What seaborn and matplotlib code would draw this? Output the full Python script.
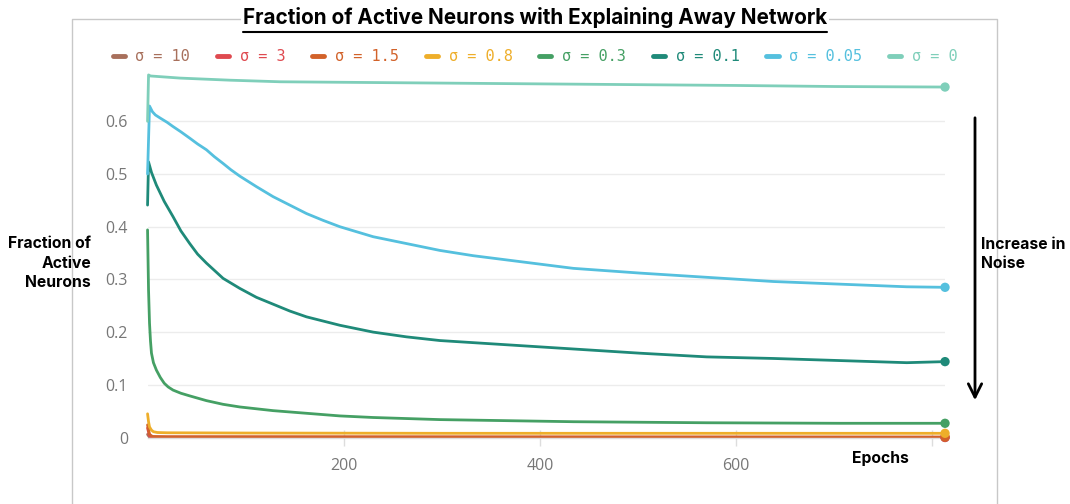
import numpy as np
import pandas as pd
import matplotlib
matplotlib.use("Agg")
import matplotlib.pyplot as plt
import seaborn as sns
from matplotlib.lines import Line2D
from matplotlib.font_manager import FontProperties

# ---------------- data ----------------
labels = ["σ = 10", "σ = 3", "σ = 1.5", "σ = 0.8", "σ = 0.3", "σ = 0.1", "σ = 0.05", "σ = 0"]
colors = ["#a8705c", "#df4a50", "#d2622a", "#eeae2a", "#45a064", "#1f8a79", "#55c0de", "#7fcfba"]

ep_s10 = [0, 2, 813]
val_s10 = [0.006, 0.0005, 0.0]

ep_s3 = [0, 2, 5, 813]
val_s3 = [0.018, 0.003, 0.0008, 0.0003]

ep_s15 = [0, 2, 5, 20, 813]
val_s15 = [0.024, 0.006, 0.002, 0.0015, 0.001]

ep_s08 = [0, 1, 2, 4, 6, 10, 20, 100, 300, 500, 813]
val_s08 = [0.045, 0.030, 0.020, 0.014, 0.011, 0.0095, 0.009, 0.0085, 0.008, 0.008, 0.008]

ep_s03 = [0, 1, 2, 3, 4, 6, 9, 13, 17, 21, 26, 34, 43, 60, 77, 94, 128, 162, 196, 230,
          264, 298, 434, 570, 706, 813]
val_s03 = [0.394, 0.28, 0.217, 0.183, 0.160, 0.142, 0.128, 0.114, 0.103, 0.096, 0.090,
           0.084, 0.079, 0.070, 0.063, 0.058, 0.051, 0.046, 0.041, 0.038, 0.036, 0.034,
           0.030, 0.028, 0.027, 0.027]

ep_s01 = [0, 1, 4, 9, 17, 26, 34, 43, 51, 60, 77, 94, 111, 128, 145, 162, 196, 230, 264,
          298, 366, 434, 502, 570, 638, 706, 774, 813]
val_s01 = [0.441, 0.523, 0.503, 0.479, 0.448, 0.419, 0.392, 0.368, 0.348, 0.331, 0.302,
           0.283, 0.266, 0.253, 0.240, 0.229, 0.213, 0.200, 0.191, 0.184, 0.176, 0.168,
           0.160, 0.153, 0.150, 0.146, 0.142, 0.144]

ep_s005 = [0, 2, 5, 8, 13, 20, 26, 34, 43, 51, 60, 68, 77, 85, 94, 111, 128, 145, 162,
           179, 196, 230, 264, 298, 332, 366, 434, 502, 570, 638, 706, 774, 813]
val_s005 = [0.50, 0.629, 0.618, 0.612, 0.606, 0.598, 0.590, 0.580, 0.568, 0.557, 0.546,
            0.533, 0.520, 0.508, 0.496, 0.476, 0.457, 0.441, 0.425, 0.412, 0.400, 0.381,
            0.368, 0.355, 0.345, 0.337, 0.321, 0.312, 0.304, 0.296, 0.291, 0.286, 0.285]

ep_s0 = [0, 1, 3, 33, 84, 135, 200, 400, 600, 700, 813]
val_s0 = [0.60, 0.688, 0.686, 0.682, 0.678, 0.675, 0.674, 0.671, 0.668, 0.666, 0.665]

y_ticks = [0, 0.1, 0.2, 0.3, 0.4, 0.5, 0.6]
y_tick_labels = ["0", "0.1", "0.2", "0.3", "0.4", "0.5", "0.6"]
x_ticks = [200, 400, 600, 800]
x_tick_labels = ["200", "400", "600", ""]

title = "Fraction of Active Neurons with Explaining Away Network"
ylabel = "Fraction of\nActive\nNeurons"
xlabel = "Epochs"
note = "Increase in\nNoise"

# ---------------- build long-form table ----------------
series = [(ep_s10, val_s10), (ep_s3, val_s3), (ep_s15, val_s15), (ep_s08, val_s08),
          (ep_s03, val_s03), (ep_s01, val_s01), (ep_s005, val_s005), (ep_s0, val_s0)]
rows = []
for lab, (ep, val) in zip(labels, series):
    for e, v in zip(ep, val):
        rows.append({"epoch": e, "value": v, "sigma": lab})
df = pd.DataFrame(rows)
last = df.groupby("sigma", sort=False).tail(1)

# ---------------- figure ----------------
sns.set_theme(style="white")
plt.rcParams["font.family"] = ["Inter", "DejaVu Sans"]

fig = plt.figure(figsize=(10.7, 5.04), dpi=100)
ax = fig.add_axes([0.1379, 0.1319, 0.7453, 0.7320])

palette = dict(zip(labels, colors))
sns.lineplot(data=df, x="epoch", y="value", hue="sigma", hue_order=labels,
             palette=palette, lw=2, legend=False, ax=ax, estimator=None)
for ln in ax.lines:
    ln.set_clip_on(False)
    ln.set_solid_joinstyle("round")
sns.scatterplot(data=last, x="epoch", y="value", hue="sigma", hue_order=labels,
                palette=palette, s=45, legend=False, ax=ax, edgecolor="none",
                clip_on=False, zorder=5)

ax.set_xlim(0, 813)
ax.set_ylim(0, 0.70)
ax.set_yticks(y_ticks)
ax.set_yticklabels(y_tick_labels)
ax.set_xticks(x_ticks)
ax.set_xticklabels(x_tick_labels)
ax.set_xlabel("")
ax.set_ylabel("")
for sp in ["top", "right", "left"]:
    ax.spines[sp].set_visible(False)
ax.spines["bottom"].set_color("#dddddd")
ax.spines["bottom"].set_linewidth(1)
ax.grid(axis="y", color="#ececec", lw=1)
ax.grid(axis="x", visible=False)
ax.set_axisbelow(True)
ax.tick_params(axis="y", length=0, pad=14, labelsize=11.5, labelcolor="#777777")
ax.tick_params(axis="x", direction="inout", length=12, width=1, color="#dddddd",
               pad=9, labelsize=11.5, labelcolor="#777777", bottom=True)
for t in ax.get_xticklabels() + ax.get_yticklabels():
    t.set_fontfamily(["Open Sans", "DejaVu Sans"])

# legend
handles = [Line2D([0], [0], color=c, lw=3.5, solid_capstyle="round") for c in colors]
fig.legend(handles, labels, loc="center", bbox_to_anchor=(0.5, 0.887), ncol=8,
           frameon=False, handlelength=0.8, handletextpad=0.7, columnspacing=1.75,
           prop=FontProperties(family="DejaVu Sans Mono", size=11), labelcolor=colors)

# panel border (open at bottom)
x0, x1, ytop = 72 / 1070, 997 / 1070, 1 - 19 / 504
fig.add_artist(Line2D([x0, x0, x1, x1], [0, ytop, ytop, 0], transform=fig.transFigure,
                      color="#c8c8c8", lw=1, zorder=0))

# title with underline
tt = fig.text(0.5, 1 - 18 / 504, title, ha="center", va="center", fontsize=14.9,
              fontweight="bold", color="black", zorder=10,
              bbox=dict(facecolor="white", edgecolor="none", pad=1))
fig.canvas.draw()
bb = tt.get_window_extent(renderer=fig.canvas.get_renderer())
uy = 1 - 32 / 504
fig.add_artist(Line2D([bb.x0 / 1070, bb.x1 / 1070], [uy, uy], transform=fig.transFigure,
                      color="black", lw=1.5, zorder=11))

# axis labels
fig.text(91 / 1070, 1 - 263 / 504, ylabel, ha="right", va="center", fontsize=11.3,
         fontweight="bold", color="black", linespacing=1.4)
fig.text(880 / 1070, 1 - 458 / 504, xlabel, ha="center", va="center", fontsize=11.3,
         fontweight="bold", color="black")
fig.text(981 / 1070, 1 - 254 / 504, note, ha="left", va="center", fontsize=11.3,
         fontweight="bold", color="black", linespacing=1.4)

# noise arrow
fig.add_artist(matplotlib.patches.FancyArrowPatch(
    (975 / 1070, 1 - 115 / 504), (975 / 1070, 1 - 403 / 504), transform=fig.transFigure,
    arrowstyle="->", mutation_scale=24, lw=2, color="black"))

fig.savefig("out.png", dpi=100)
